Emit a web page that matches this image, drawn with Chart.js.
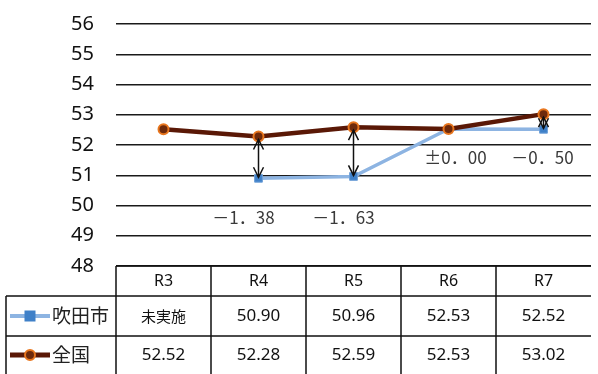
<!DOCTYPE html>
<html>
<head>
<meta charset="utf-8">
<script src="https://cdn.jsdelivr.net/npm/chart.js@4"></script>
<style>
  html, body { margin: 0; padding: 0; background: #fff; }
  #wrap { width: 598px; height: 374px; }
</style>
</head>
<body>
<div id="wrap"><canvas id="myChart" width="598" height="374"></canvas></div>
<script>
// data
var categories = ['R3', 'R4', 'R5', 'R6', 'R7'];
var suitaValues = [null, 50.90, 50.96, 52.53, 52.52];
var nationalValues = [52.52, 52.28, 52.59, 52.53, 53.02];
var diffLabels = ['', '－1．38', '－1．63', '±0．00', '－0．50'];
var seriesNames = ['吹田市', '全国'];
var notDone = '未実施';
var yMin = 48, yMax = 56;

var suitaLine = '#8DB4E2', suitaMarker = '#3F80C8';
var natLine = '#5A1806', natMarker = '#6E2A0C', natMarkerBorder = '#E8761E';

function fmt(v) { return v === null ? notDone : v.toFixed(2); }

// annotation text placement (value on y axis, x nudge in px)
var labelPlace = [null, [49.6, -15], [49.6, -10], [51.6, 7], [51.6, -1]];

function arrowHead(ctx, x, y, dir) {
    ctx.beginPath();
    ctx.moveTo(x - 5, y + dir * 10);
    ctx.lineTo(x, y);
    ctx.lineTo(x + 5, y + dir * 10);
    ctx.stroke();
}

var tablePlugin = {
    id: 'tablePlugin',
    afterDatasetsDraw: function (chart) {
        var ctx = chart.ctx, xs = chart.scales.x, ys = chart.scales.y;
        ctx.save();
        // difference arrows
        ctx.strokeStyle = '#111';
        ctx.lineWidth = 1.5;
        for (var i = 0; i < categories.length; i++) {
            var s = suitaValues[i], n = nationalValues[i];
            if (s === null || Math.abs(s - n) < 0.005) continue;
            var x = xs.getPixelForValue(i);
            var top = Math.min(ys.getPixelForValue(s), ys.getPixelForValue(n)) + 3;
            var bot = Math.max(ys.getPixelForValue(s), ys.getPixelForValue(n)) - 1;
            ctx.beginPath();
            ctx.moveTo(x, top);
            ctx.lineTo(x, bot);
            ctx.stroke();
            arrowHead(ctx, x, top, 1);
            arrowHead(ctx, x, bot, -1);
        }
        // difference labels
        ctx.fillStyle = '#3a3a3a';
        ctx.font = '17px "Noto Sans CJK JP"';
        ctx.textAlign = 'center';
        ctx.textBaseline = 'middle';
        for (var j = 0; j < diffLabels.length; j++) {
            if (!labelPlace[j]) continue;
            ctx.fillText(diffLabels[j], xs.getPixelForValue(j) + labelPlace[j][1],
                ys.getPixelForValue(labelPlace[j][0]));
        }
        ctx.restore();
    },
    afterDraw: function (chart) {
        var ctx = chart.ctx, xs = chart.scales.x, area = chart.chartArea;
        var w = (area.right - area.left) / categories.length;
        var top = area.bottom, r1 = top + 30, r2 = r1 + 40, bottom = 374;
        ctx.save();
        ctx.strokeStyle = '#111';
        ctx.lineWidth = 1.5;
        ctx.beginPath();
        ctx.moveTo(area.left, top); ctx.lineTo(area.right, top);
        ctx.moveTo(6, r1); ctx.lineTo(area.right, r1);
        ctx.moveTo(6, r2); ctx.lineTo(area.right, r2);
        ctx.moveTo(6, r1); ctx.lineTo(6, bottom);
        for (var i = 0; i < categories.length; i++) {
            var bx = area.left + i * w;
            ctx.moveTo(bx, top); ctx.lineTo(bx, bottom);
        }
        ctx.stroke();

        ctx.fillStyle = '#111';
        ctx.textAlign = 'center';
        ctx.textBaseline = 'middle';
        for (var k = 0; k < categories.length; k++) {
            var cx = xs.getPixelForValue(k);
            ctx.font = '16px "Noto Sans"';
            ctx.fillText(categories[k], cx, (top + r1) / 2);
            if (suitaValues[k] === null) {
                ctx.font = '15px "Noto Sans CJK JP"';
            } else {
                ctx.font = '17px "Noto Sans"';
            }
            ctx.fillText(fmt(suitaValues[k]), cx, (r1 + r2) / 2);
            ctx.font = '17px "Noto Sans"';
            ctx.fillText(fmt(nationalValues[k]), cx, (r2 + bottom) / 2);
        }

        // legend keys
        var y1 = (r1 + r2) / 2, y2 = (r2 + bottom) / 2;
        ctx.lineWidth = 4;
        ctx.strokeStyle = suitaLine;
        ctx.beginPath(); ctx.moveTo(10, y1); ctx.lineTo(50, y1); ctx.stroke();
        ctx.fillStyle = suitaMarker;
        ctx.fillRect(24.5, y1 - 5.5, 11, 11);
        ctx.lineWidth = 5;
        ctx.strokeStyle = natLine;
        ctx.beginPath(); ctx.moveTo(10, y2); ctx.lineTo(50, y2); ctx.stroke();
        ctx.beginPath(); ctx.arc(30, y2, 5, 0, Math.PI * 2);
        ctx.fillStyle = natMarker; ctx.fill();
        ctx.lineWidth = 2; ctx.strokeStyle = natMarkerBorder; ctx.stroke();

        ctx.fillStyle = '#222';
        ctx.textAlign = 'left';
        ctx.font = '19px "Noto Sans CJK JP"';
        ctx.fillText(seriesNames[0], 52, y1);
        ctx.fillText(seriesNames[1], 52, y2);
        ctx.restore();
    }
};

var ctx = document.getElementById('myChart').getContext('2d');
var myChart = new Chart(ctx, {
    type: 'line',
    data: {
        labels: categories,
        datasets: [{
            label: seriesNames[0],
            data: suitaValues,
            borderColor: suitaLine,
            backgroundColor: suitaMarker,
            borderWidth: 3.5,
            pointStyle: 'rect',
            pointRadius: 5.5,
            pointBorderColor: '#6FA0D8',
            pointBorderWidth: 1,
            order: 1,
            tension: 0
        },
        {
            label: seriesNames[1],
            data: nationalValues,
            borderColor: natLine,
            backgroundColor: natMarker,
            borderWidth: 4.5,
            pointStyle: 'circle',
            pointRadius: 5,
            pointBorderColor: natMarkerBorder,
            pointBorderWidth: 2,
            order: 0,
            tension: 0
        }]
    },
    options: {
        responsive: false,
        animation: false,
        layout: { padding: { top: 24, bottom: 108, left: 0, right: 0 } },
        plugins: {
            legend: { display: false },
            tooltip: { enabled: false }
        },
        scales: {
            x: { display: false, offset: true },
            y: {
                min: yMin,
                max: yMax,
                ticks: {
                    stepSize: 1,
                    color: '#111',
                    padding: 2,
                    font: { family: 'Noto Sans', size: 20 }
                },
                grid: {
                    color: '#1a1a1a',
                    lineWidth: 1.5,
                    drawTicks: true,
                    tickLength: 20,
                    tickColor: 'rgba(0,0,0,0)'
                },
                border: { display: false },
                afterFit: function (scale) { scale.width = 116; }
            }
        }
    },
    plugins: [tablePlugin]
});
</script>
</body>
</html>
